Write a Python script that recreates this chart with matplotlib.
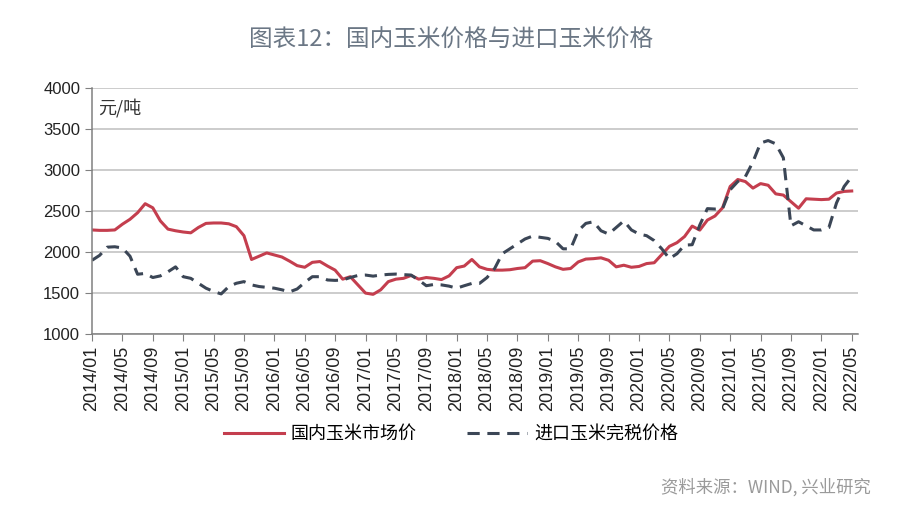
import numpy as np
import matplotlib
matplotlib.use("Agg")
import matplotlib.pyplot as plt

plt.rcParams['font.family'] = ['Liberation Sans', 'Noto Sans CJK SC', 'DejaVu Sans']

# 月度数据 2014/01 - 2022/05
months = [f"{y}/{m:02d}" for y in range(2014, 2023) for m in range(1, 13)][:101]

domestic = [2270, 2265, 2265, 2270, 2340, 2400, 2480, 2590, 2540, 2380,
            2280, 2260, 2245, 2235, 2300, 2350, 2355, 2355, 2345, 2310,
            2200, 1910, 1950, 1990, 1965, 1940, 1890, 1835, 1815, 1875,
            1885, 1830, 1780, 1670, 1700, 1600, 1500, 1485, 1540, 1640,
            1670, 1680, 1715, 1670, 1690, 1680, 1665, 1710, 1810, 1830,
            1910, 1820, 1790, 1780, 1780, 1785, 1800, 1810, 1890, 1895,
            1860, 1820, 1790, 1800, 1880, 1915, 1920, 1930, 1900, 1820,
            1840, 1815, 1825, 1860, 1870, 1970, 2070, 2115, 2190, 2317,
            2268, 2390, 2440, 2540, 2800, 2885, 2860, 2780, 2835, 2815,
            2710, 2695, 2615, 2535, 2650, 2645, 2640, 2645, 2720, 2740,
            2745]

imported = [1900, 1960, 2060, 2065, 2050, 1950, 1730, 1740, 1690, 1710,
            1760, 1820, 1700, 1680, 1620, 1560, 1520, 1490, 1580, 1620,
            1640, 1600, 1580, 1570, 1560, 1540, 1515, 1550, 1630, 1700,
            1700, 1660, 1655, 1660, 1690, 1715, 1720, 1707, 1720, 1728,
            1732, 1725, 1720, 1660, 1590, 1605, 1600, 1585, 1560, 1590,
            1618, 1618, 1690, 1800, 1980, 2040, 2100, 2160, 2195, 2180,
            2167, 2130, 2040, 2040, 2260, 2350, 2370, 2260, 2220, 2300,
            2380, 2270, 2220, 2200, 2140, 2040, 1920, 1980, 2085, 2090,
            2330, 2530, 2525, 2530, 2760, 2860, 2920, 3100, 3330, 3360,
            3320, 3150, 2320, 2370, 2320, 2270, 2270, 2300, 2600, 2800,
            2920]

x = np.arange(len(months))

fig = plt.figure(figsize=(9.02, 5.18), dpi=100)
ax = fig.add_axes([0.102, 0.355, 0.849, 0.475])

ax.plot(x, domestic, color='#c43e4e', lw=2.2, label='国内玉米市场价')
ax.plot(x, imported, color='#3b4656', lw=2.2, dashes=(4, 2.5), label='进口玉米完税价格')

ax.set_xlim(0, 100.8)
ax.set_ylim(1000, 4000)
ax.set_yticks(np.arange(1000, 4001, 500))
ax.set_xticks(x[::4])
ax.set_xticklabels(months[::4], rotation=90, fontsize=13, color='#222222')
ax.tick_params(axis='y', labelsize=12, colors='#222222', length=5, color='#808080')
ax.tick_params(axis='x', length=5, color='#808080')

ax.grid(axis='y', color='#c4c4c4', lw=1.2)
ax.set_axisbelow(True)
for s in ['top', 'right']:
    ax.spines[s].set_visible(False)
for s in ['left', 'bottom']:
    ax.spines[s].set_color('#808080')
    ax.spines[s].set_linewidth(1.1)

ax.text(0.008, 0.92, '元/吨', transform=ax.transAxes, fontsize=13,
        color='#333333', va='center', family=['Noto Sans CJK SC', 'DejaVu Sans'])

fig.text(0.5, 0.923, '图表12：国内玉米价格与进口玉米价格', ha='center', va='center',
         fontsize=17, color='#6b7785', family=['Noto Sans CJK SC', 'DejaVu Sans'])

fig.legend(loc='center', bbox_to_anchor=(0.5, 0.162), ncol=2, frameon=False,
           handlelength=3.3, columnspacing=2.8, handletextpad=0.4,
           prop={'family': ['Noto Sans CJK SC', 'DejaVu Sans'], 'size': 13})

fig.text(0.965, 0.06, '资料来源：WIND, 兴业研究', ha='right', va='center',
         fontsize=12.5, color='#9a9a9a', family=['Noto Sans CJK SC', 'DejaVu Sans'])

plt.savefig('out.png', dpi=100)
